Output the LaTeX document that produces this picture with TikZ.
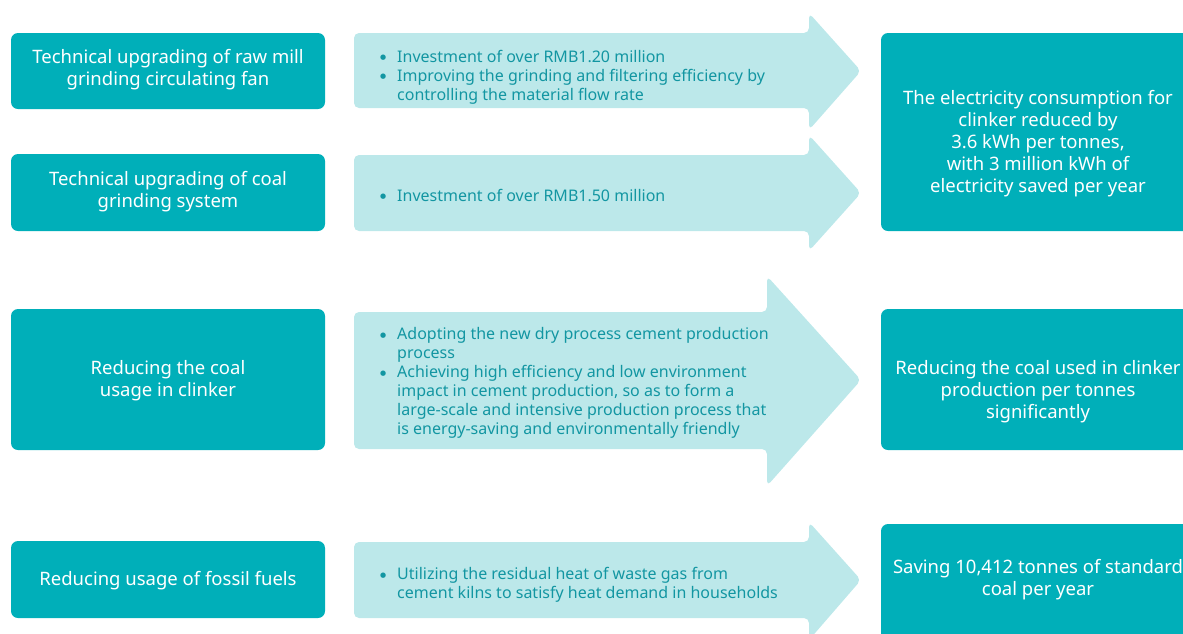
\documentclass[tikz,border=0pt]{standalone}
\usepackage{fontspec}
\setmainfont{Noto Sans}
\newfontfamily\dejavu{DejaVu Sans}
\definecolor{teal1}{HTML}{00AFB9}
\definecolor{light1}{HTML}{BCE8EA}
\definecolor{txt1}{HTML}{1296A2}
\newcommand{\bul}{\makebox[17pt][l]{\raisebox{2.3pt}{{\dejavu\fontsize{7}{7}\selectfont ●}}}}
\newcommand{\ind}{\hspace*{17pt}}
\begin{document}
\begin{tikzpicture}[x=1pt,y=-1pt,
  darkbox/.style={fill=teal1, rounded corners=7pt, draw=none},
  boxtext/.style={text=white, align=center, font=\fontsize{18.5}{22}\selectfont, inner sep=0pt},
  arrowshape/.style={fill=light1, rounded corners=5pt, draw=none},
  arrowtext/.style={text=txt1, align=left, font=\fontsize{16}{19}\selectfont, inner sep=0pt, anchor=west}]
\useasboundingbox (0,0) rectangle (1183,633);
\begin{scope}
\clip (0,0) rectangle (1183,633);
% left boxes
\fill[darkbox] (11,33) rectangle (325,109);
\fill[darkbox] (11,154) rectangle (325,231);
\fill[darkbox] (11,309) rectangle (325,450);
\fill[darkbox] (11,541) rectangle (325,618);
% right boxes
\fill[darkbox] (881,33) rectangle (1200,231);
\fill[darkbox] (881,309) rectangle (1200,450);
\fill[darkbox] (881,524) rectangle (1200,660);
% arrows
\fill[arrowshape] (354,33) -- (809,33) -- (809,13) -- (861,71) -- (809,130) -- (809,108) -- (354,108) -- cycle;
\fill[arrowshape] (354,155) -- (809,155) -- (809,135) -- (861,193) -- (809,251) -- (809,231) -- (354,231) -- cycle;
\fill[arrowshape] (354,312) -- (767,312) -- (767,276) -- (861,380) -- (767,486) -- (767,449) -- (354,449) -- cycle;
\fill[arrowshape] (354,542) -- (809,542) -- (809,522) -- (861,580) -- (809,640) -- (809,618) -- (354,618) -- cycle;
\end{scope}
% left texts
\node[boxtext] (l1) at (168,70) {Technical upgrading of raw mill\\grinding circulating fan};
\node[boxtext] (l2) at (168,192) {Technical upgrading of coal\\grinding system};
\node[boxtext] (l3) at (168,381) {Reducing the coal\\usage in clinker};
\node[boxtext] (l4) at (168,581) {Reducing usage of fossil fuels};
% right texts
\node[boxtext] (r1) at (1038,144) {The electricity consumption for\\clinker reduced by\\3.6 kWh per tonnes,\\with 3 million kWh of\\electricity saved per year};
\node[boxtext] (r2) at (1038,392) {Reducing the coal used in clinker\\production per tonnes\\significantly};
\node[boxtext] (r3) at (1038,580) {Saving 10,412 tonnes of standard\\coal per year};
% arrow texts
\node[arrowtext] (a1) at (380,77) {\bul Investment of over RMB1.20 million\\\bul Improving the grinding and filtering efficiency by\\\ind controlling the material flow rate};
\node[arrowtext] (a2) at (380,195) {\bul Investment of over RMB1.50 million};
\node[arrowtext] (a3) at (380,383) {\bul Adopting the new dry process cement production\\\ind process\\\bul Achieving high efficiency and low environment\\\ind impact in cement production, so as to form a\\\ind large-scale and intensive production process that\\\ind is energy-saving and environmentally friendly};
\node[arrowtext] (a4) at (380,585) {\bul Utilizing the residual heat of waste gas from\\\ind cement kilns to satisfy heat demand in households};
\end{tikzpicture}
\end{document}
